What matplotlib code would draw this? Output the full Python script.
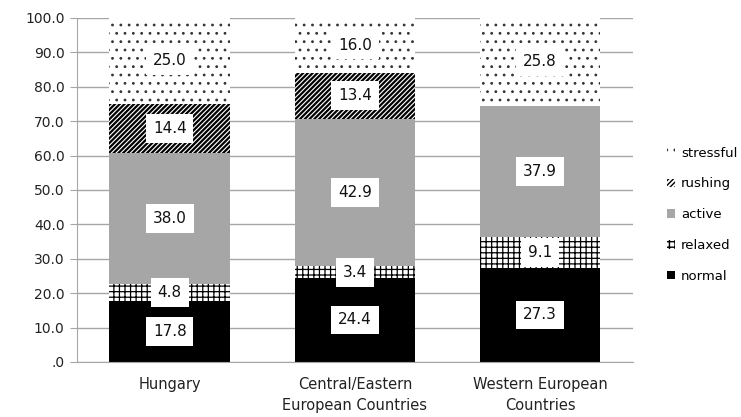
"""
Stacked bar chart of commuting mood shares by region
"""
import matplotlib.pyplot as plt
import numpy as np

# Region labels on the x axis
regions = ['Hungary', 'Central/Eastern\nEuropean Countries', 'Western European\nCountries']

# Share of each mood per region (percent)
normal = [17.8, 24.4, 27.3]
relaxed = [4.8, 3.4, 9.1]
active = [38.0, 42.9, 37.9]
rushing = [14.4, 13.4, 0.0]
stressful = [25.0, 16.0, 25.8]

moods = ['normal', 'relaxed', 'active', 'rushing', 'stressful']
series = [normal, relaxed, active, rushing, stressful]

# fill style per mood: facecolor, hatch, hatch colour, hatch width
styles = {
    'normal': ('black', None, 'black', 1.0),
    'relaxed': ('white', '+++', 'black', 0.9),
    'active': ('#a6a6a6', None, 'black', 1.0),
    'rushing': ('white', '///////', 'black', 1.6),
    'stressful': ('white', '..', '#333333', 0.8),
}

y_ticks = np.arange(0, 101, 10)


def fmt_tick(v):
    s = f'{v:.1f}'
    if s.startswith('0'):
        s = s[1:]
    return s


plt.rcParams['font.family'] = 'DejaVu Sans'

fig = plt.figure(figsize=(7.41, 4.17), dpi=100)
ax = fig.add_axes([0.104, 0.132, 0.75, 0.825])

x = np.arange(len(regions))
bottom = np.zeros(len(regions))
handles = []
for name, vals in zip(moods, series):
    face, hatch, hcol, hlw = styles[name]
    vals = np.array(vals)
    bars = ax.bar(x, vals, width=0.65, bottom=bottom, color=face,
                  edgecolor=hcol, hatch=hatch, linewidth=0, zorder=2,
                  label=name)
    for p in bars:
        if hasattr(p, 'set_hatch_linewidth'):
            p.set_hatch_linewidth(hlw)
    handles.append(bars)
    for xi, b, v in zip(x, bottom, vals):
        if v <= 0:
            continue
        ax.text(xi, b + v / 2, f'{v:.1f}', ha='center', va='center',
                fontsize=11, color='#111111', zorder=4,
                bbox=dict(boxstyle='square,pad=0.45', facecolor='white',
                          edgecolor='none'))
    bottom = bottom + vals

ax.set_xlim(-0.5, 2.5)
ax.set_ylim(0, 100)
ax.set_yticks(y_ticks)
ax.set_yticklabels([fmt_tick(v) for v in y_ticks])
ax.set_xticks(x)
ax.set_xticklabels(regions, linespacing=1.45)

ax.yaxis.grid(True, color='#a6a6a6', linewidth=1.0, zorder=0)
ax.set_axisbelow(True)
for side in ['top', 'right']:
    ax.spines[side].set_visible(False)
ax.spines['left'].set_color('#a6a6a6')
ax.spines['bottom'].set_color('#a6a6a6')
ax.tick_params(axis='y', colors='#a6a6a6', labelcolor='#222222',
               labelsize=10, length=5, pad=4)
ax.tick_params(axis='x', length=0, labelsize=10.5, labelcolor='#222222', pad=11)

fig.legend(handles[::-1], moods[::-1], loc='center left',
           bbox_to_anchor=(0.888, 0.485), frameon=False, fontsize=9.5,
           handlelength=0.6, handleheight=0.6, handletextpad=0.45,
           labelspacing=1.35, borderpad=0.2)

plt.savefig('out.png', dpi=100)
plt.close()
